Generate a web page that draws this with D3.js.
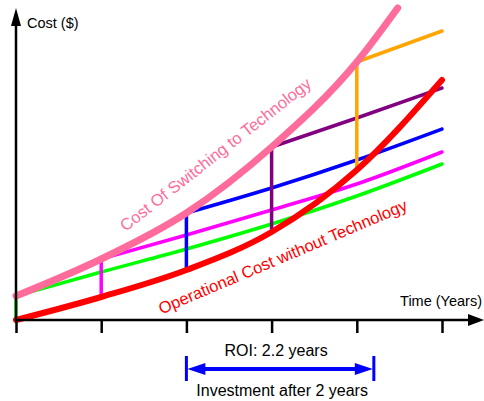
<!DOCTYPE html>
<html>
<head>
<meta charset="utf-8">
<script src="https://cdn.jsdelivr.net/npm/d3@7"></script>
<style>
  body { margin: 0; background: #fff; }
  svg { display: block; font-family: Arial, "Liberation Sans", sans-serif; }
</style>
</head>
<body>
<svg id="chart" width="484" height="401"></svg>
<script>
// years on the time axis
const years = [0, 1, 2, 3, 4, 5];

// operational cost without technology (red)
const opCost = [0, 23, 50, 88, 150, 240];

// cost of switching to technology (pink), stops before year 5
const switchYears = [0, 1, 2, 3, 4, 4.48];
const switchCost = [24, 61, 107, 173, 258, 312];

// cost paths when switching at a given year
const stepStart = [0, 1, 2, 3, 4];
const stepColors = ['#00ff00', '#ff00ff', '#0000ff', '#800080', '#ffa500'];
const stepValues = [
  [24, 48, 71, 96, 124, 156],
  [61, 85, 110, 136, 168],
  [107, 132, 160, 191],
  [173, 202, 232],
  [258, 289]
];

// ROI annotation
const investYear = 2;
const roiYears = 2.2;

const svg = d3.select('#chart');

const x = d3.scaleLinear().domain([0, 5]).range([16, 442]);
const y = d3.scaleLinear().domain([0, 310]).range([320, 10]);

const line = d3.line()
  .x(d => x(d[0]))
  .y(d => y(d[1]))
  .curve(d3.curveMonotoneX);

// step lines (vertical rise then growth)
stepStart.forEach((k, i) => {
  const pts = stepValues[i].map((v, j) => [k + j, v]);
  svg.append('line')
    .attr('x1', x(k)).attr('x2', x(k))
    .attr('y1', y(opCost[k])).attr('y2', y(stepValues[i][0]))
    .attr('stroke', stepColors[i])
    .attr('stroke-width', 3.5);
  svg.append('path')
    .attr('d', line(pts))
    .attr('fill', 'none')
    .attr('stroke', stepColors[i])
    .attr('stroke-width', 3.5)
    .attr('stroke-linecap', 'round')
    .attr('stroke-linejoin', 'round');
});

// pink curve
svg.append('path')
  .attr('d', line(switchYears.map((t, i) => [t, switchCost[i]])))
  .attr('fill', 'none')
  .attr('stroke', '#ff6c9c')
  .attr('stroke-width', 7)
  .attr('stroke-linecap', 'round');

// red curve
svg.append('path')
  .attr('d', line(years.map((t, i) => [t, opCost[i]])))
  .attr('fill', 'none')
  .attr('stroke', '#ff0000')
  .attr('stroke-width', 6)
  .attr('stroke-linecap', 'round');

// axes
const xAxis = d3.axisBottom(x).tickValues(years).tickSize(13).tickFormat('');
const gx = svg.append('g').attr('transform', `translate(0,${y(0)})`).call(xAxis);
gx.select('.domain').remove();
gx.selectAll('.tick line').attr('stroke', '#000').attr('stroke-width', 2.5);

svg.append('line')
  .attr('x1', x(0)).attr('x2', 470)
  .attr('y1', y(0)).attr('y2', y(0))
  .attr('stroke', '#000').attr('stroke-width', 2.5);
svg.append('path')
  .attr('d', `M484,${y(0)} L468,${y(0) - 6} L468,${y(0) + 6} Z`)
  .attr('fill', '#000');

svg.append('line')
  .attr('x1', x(0)).attr('x2', x(0))
  .attr('y1', y(0) + 1).attr('y2', 24)
  .attr('stroke', '#000').attr('stroke-width', 2.5);
svg.append('path')
  .attr('d', `M${x(0)},8 L${x(0) - 5},26 L${x(0) + 5},26 Z`)
  .attr('fill', '#000');

svg.append('text').attr('x', 27).attr('y', 28)
  .attr('font-size', 14.5).text('Cost ($)');
svg.append('text').attr('x', 482).attr('y', 306)
  .attr('text-anchor', 'end').attr('font-size', 14.5).text('Time (Years)');

// curve labels
svg.append('text')
  .attr('transform', 'translate(219,159) rotate(-38)')
  .attr('text-anchor', 'middle')
  .attr('font-size', 16.5)
  .attr('fill', '#ff6c9c')
  .text('Cost Of Switching to Technology');

svg.append('text')
  .attr('transform', 'translate(285,262) rotate(-23)')
  .attr('text-anchor', 'middle')
  .attr('font-size', 16.5)
  .attr('fill', '#ff0000')
  .text('Operational Cost without Technology');

// ROI arrow
const ax1 = x(investYear), ax2 = x(investYear + roiYears), ay = 369;
svg.append('line')
  .attr('x1', ax1 + 10).attr('x2', ax2 - 10)
  .attr('y1', ay).attr('y2', ay)
  .attr('stroke', '#0000ff').attr('stroke-width', 4);
[ax1, ax2].forEach((px, i) => {
  const dir = i === 0 ? 1 : -1;
  svg.append('line')
    .attr('x1', px).attr('x2', px)
    .attr('y1', ay - 13).attr('y2', ay + 12)
    .attr('stroke', '#0000ff').attr('stroke-width', 3);
  svg.append('path')
    .attr('d', `M${px + dir},${ay} L${px + dir * 19},${ay - 6} L${px + dir * 19},${ay + 6} Z`)
    .attr('fill', '#0000ff');
});

svg.append('text').attr('x', (ax1 + ax2) / 2 - 4).attr('y', 356)
  .attr('text-anchor', 'middle').attr('font-size', 16).text('ROI: ' + roiYears + ' years');
svg.append('text').attr('x', (ax1 + ax2) / 2 + 2).attr('y', 396)
  .attr('text-anchor', 'middle').attr('font-size', 16).text('Investment after 2 years');
</script>
</body>
</html>
